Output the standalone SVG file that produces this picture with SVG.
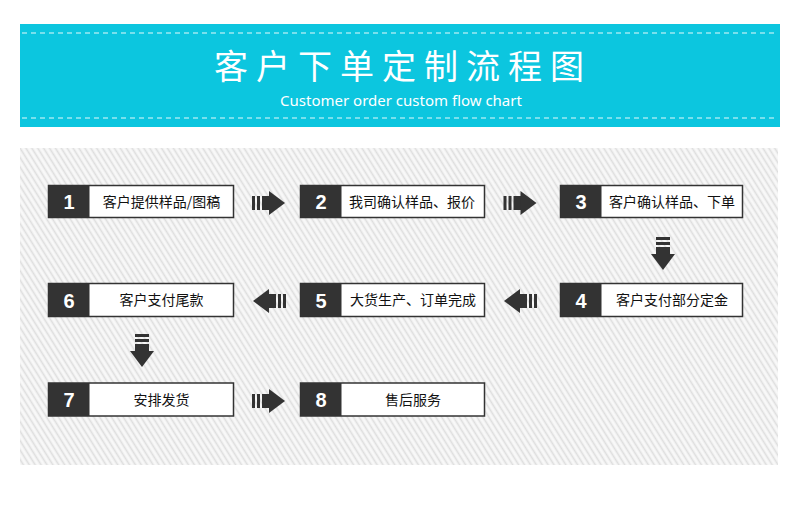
<svg xmlns="http://www.w3.org/2000/svg" xmlns:xlink="http://www.w3.org/1999/xlink" width="800" height="518" viewBox="0 0 800 518">
  <style>
    .box { fill: #ffffff; stroke: #333333; stroke-width: 1.5; }
    .num-bg { fill: #333333; }
    .num { fill: #ffffff; font-family: "Liberation Sans", Arial, sans-serif; font-weight: bold; font-size: 20px; text-anchor: middle; }
    .lbl { fill: #111111; font-family: "Noto Sans CJK SC", "Noto Sans", sans-serif; font-size: 14px; text-anchor: middle; }
    .dash { stroke: #ffffff; stroke-width: 1; stroke-dasharray: 5 4; fill: none; opacity: 0.9; }
    .arrow { fill: #333333; }
  </style>
  <defs>
    <pattern id="tex" width="5" height="5" patternUnits="userSpaceOnUse" patternTransform="rotate(-32)">
      <rect width="5" height="5" fill="#efefef"/>
      <line x1="1" y1="0" x2="1" y2="5" stroke="#fbfbfb" stroke-width="1.6"/>
      <line x1="3.5" y1="0" x2="3.5" y2="5" stroke="#dcdcdc" stroke-width="0.9"/>
    </pattern>
    <g id="arr">
      <rect x="0" y="-7" width="3" height="14"/>
      <rect x="5" y="-7" width="3" height="14"/>
      <rect x="10" y="-7" width="8" height="14"/>
      <polygon points="17,-12 33,0 17,12"/>
    </g>
  </defs>

  <rect x="0" y="0" width="800" height="518" fill="#ffffff"/>

  <g id="banner">
    <rect x="20" y="24" width="760" height="103" fill="#0cc6df"/>
    <line class="dash" x1="22" y1="33" x2="778" y2="33"/>
    <line class="dash" x1="22" y1="118" x2="778" y2="118"/>
    <text x="403" y="79" fill="#ffffff" font-family="Noto Sans CJK SC, Noto Sans, sans-serif" font-size="34" letter-spacing="8" text-anchor="middle">客户下单定制流程图</text>
    <text x="401" y="106" fill="#ffffff" font-family="Noto Sans, Open Sans, sans-serif" font-size="15" text-anchor="middle">Customer order custom flow chart</text>
  </g>

  <rect id="panel" x="20" y="148" width="758" height="317" fill="url(#tex)"/>

  <g id="connectors" class="arrow">
    <use xlink:href="#arr" href="#arr" transform="translate(252,203)"/>
    <use xlink:href="#arr" href="#arr" transform="translate(503.5,203)"/>
    <use xlink:href="#arr" href="#arr" transform="translate(663,237) rotate(90)"/>
    <use xlink:href="#arr" href="#arr" transform="translate(537,301) scale(-1,1)"/>
    <use xlink:href="#arr" href="#arr" transform="translate(286,301) scale(-1,1)"/>
    <use xlink:href="#arr" href="#arr" transform="translate(142,334) rotate(90)"/>
    <use xlink:href="#arr" href="#arr" transform="translate(252,401)"/>
  </g>

  <g id="node1">
    <rect class="box" x="48.5" y="185.5" width="185" height="32"/>
    <rect class="num-bg" x="48.5" y="185.5" width="41" height="32"/>
    <text class="num" x="69" y="209">1</text>
    <text class="lbl" x="161.5" y="207">客户提供样品/图稿</text>
  </g>
  <g id="node2">
    <rect class="box" x="300.5" y="185.5" width="184" height="32"/>
    <rect class="num-bg" x="300.5" y="185.5" width="41" height="32"/>
    <text class="num" x="321" y="209">2</text>
    <text class="lbl" x="349" y="207" style="text-anchor:start">我司确认样品、报价</text>
  </g>
  <g id="node3">
    <rect class="box" x="560.5" y="185.5" width="182" height="32"/>
    <rect class="num-bg" x="560.5" y="185.5" width="41" height="32"/>
    <text class="num" x="581" y="209">3</text>
    <text class="lbl" x="672" y="207">客户确认样品、下单</text>
  </g>
  <g id="node4">
    <rect class="box" x="560.5" y="283.5" width="182" height="33"/>
    <rect class="num-bg" x="560.5" y="283.5" width="41" height="33"/>
    <text class="num" x="581" y="307.5">4</text>
    <text class="lbl" x="672" y="305">客户支付部分定金</text>
  </g>
  <g id="node5">
    <rect class="box" x="300.5" y="283.5" width="184" height="33"/>
    <rect class="num-bg" x="300.5" y="283.5" width="41" height="33"/>
    <text class="num" x="321" y="307.5">5</text>
    <text class="lbl" x="413" y="305">大货生产、订单完成</text>
  </g>
  <g id="node6">
    <rect class="box" x="48.5" y="283.5" width="185" height="33"/>
    <rect class="num-bg" x="48.5" y="283.5" width="41" height="33"/>
    <text class="num" x="69" y="307.5">6</text>
    <text class="lbl" x="161.5" y="305">客户支付尾款</text>
  </g>
  <g id="node7">
    <rect class="box" x="48.5" y="383" width="185" height="33"/>
    <rect class="num-bg" x="48.5" y="383" width="41" height="33"/>
    <text class="num" x="69" y="407">7</text>
    <text class="lbl" x="161.5" y="404.5">安排发货</text>
  </g>
  <g id="node8">
    <rect class="box" x="300.5" y="383" width="184" height="33"/>
    <rect class="num-bg" x="300.5" y="383" width="41" height="33"/>
    <text class="num" x="321" y="407">8</text>
    <text class="lbl" x="413" y="404.5">售后服务</text>
  </g>
</svg>
